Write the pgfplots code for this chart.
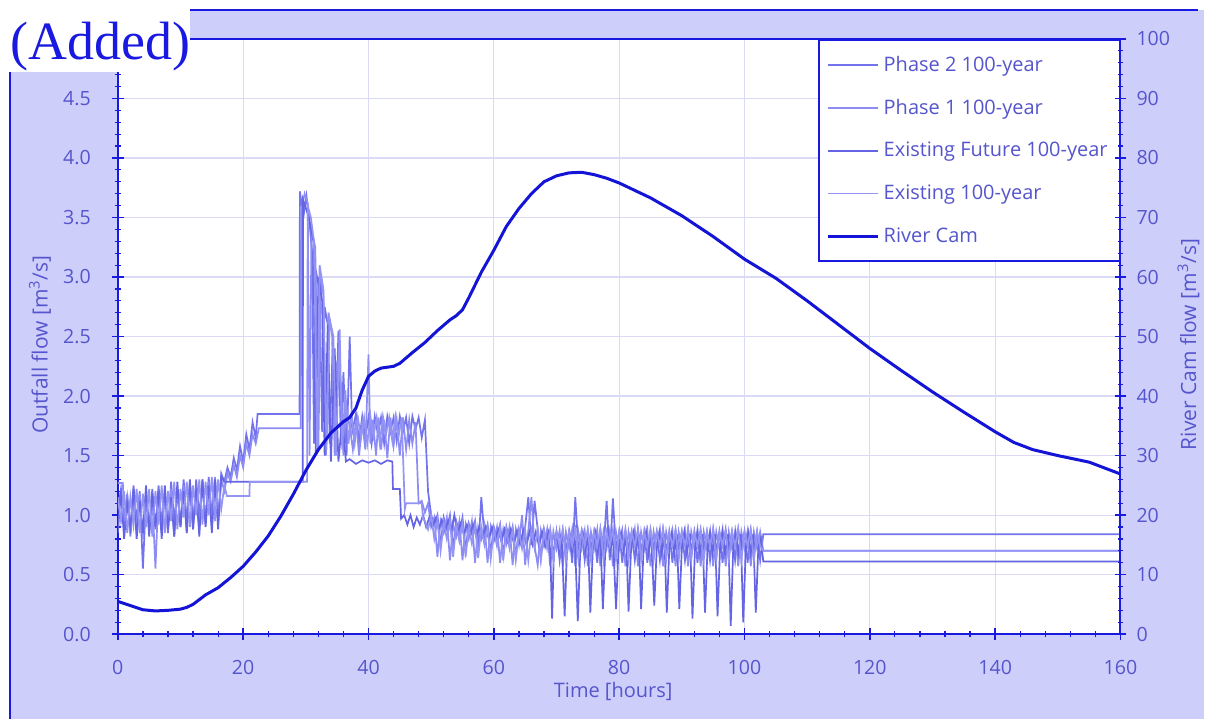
\documentclass[border=0pt]{standalone}
\usepackage{pgfplots}
\pgfplotsset{compat=1.18}
\usepackage{fontspec}
\setmainfont{Open Sans}
\newfontfamily\serifadded{Liberation Serif}
\definecolor{bglav}{RGB}{206,206,250}
\definecolor{axblue}{RGB}{25,25,225}
\definecolor{txtblue}{RGB}{85,85,205}
\definecolor{gridlav}{RGB}{218,218,246}
\definecolor{sA}{RGB}{115,115,238}
\definecolor{sB}{RGB}{140,140,244}
\definecolor{sC}{RGB}{100,100,228}
\definecolor{sD}{RGB}{148,148,244}
\definecolor{river}{RGB}{20,20,215}
\begin{document}
\begin{tikzpicture}
\fill[white] (0pt,0pt) rectangle (603pt,-360pt);
\fill[bglav] (5pt,-5pt) rectangle (603pt,-360pt);
\draw[axblue, line width=1pt] (95pt,-5pt) -- (600pt,-5pt);
\draw[axblue, line width=1pt] (5pt,-36pt) -- (5pt,-360pt);
\begin{axis}[
  at={(59pt,-317.5pt)}, anchor=south west,
  width=502pt, height=298pt, scale only axis,
  xmin=0, xmax=160, ymin=0, ymax=5,
  xtick={0,20,...,160}, minor x tick num=4,
  ytick={0,0.5,1,1.5,2,2.5,3,3.5,4,4.5},
  minor ytick={0.1,0.2,0.3,0.4,0.6,0.7,0.8,0.9,1.1,1.2,1.3,1.4,1.6,1.7,1.8,1.9,2.1,2.2,2.3,2.4,2.6,2.7,2.8,2.9,3.1,3.2,3.3,3.4,3.6,3.7,3.8,3.9,4.1,4.2,4.3,4.4,4.6,4.7,4.8,4.9},
  xtick pos=bottom, ytick pos=left,
  tick align=center, major tick length=6pt, minor tick length=3pt,
  axis line style={axblue, line width=1pt},
  tick style={axblue, line width=0.8pt},
  minor tick style={axblue, line width=0.6pt},
  xmajorgrids, ymajorgrids, major grid style={gridlav, line width=0.6pt},
  axis background/.style={fill=white},
  tick label style={text=txtblue, font=\fontsize{9.8}{10}\selectfont},
  /pgf/number format/assume math mode=true,
  yticklabel style={/pgf/number format/fixed, /pgf/number format/fixed zerofill, /pgf/number format/precision=1, xshift=-7pt},
  xticklabel style={yshift=-6.5pt},
  legend style={at={(rel axis cs:1,1)}, anchor=north east, draw=axblue, line width=0.9pt, fill=white,
    font=\fontsize{10}{12}\selectfont, text=txtblue, row sep=8.5pt, inner xsep=4pt, inner ysep=6pt},
  legend cell align=left,
  legend image code/.code={\draw[#1] (0pt,0pt) -- (25pt,0pt);},
]
\addplot[sA, line width=0.85pt] coordinates {(0,1.05)(0.5,1.22)(1,0.9)(1.5,1.18)(2,0.85)(2.5,1.25)(3,0.95)(3.5,1.2)(4,0.55)(4.5,1.15)(5,0.9)(5.5,1.22)(6,0.88)(6.5,1.25)(7,0.92)(7.5,1.2)(8,0.85)(8.5,1.28)(9,0.95)(9.5,1.22)(10,0.9)(10.5,1.3)(11,0.95)(11.5,1.25)(12,0.88)(12.5,1.3)(13,1.0)(13.5,1.28)(14,0.92)(14.5,1.32)(15,1.0)(15.5,1.3)(16,0.95)(16.5,1.35)(17,1.28)(17.5,1.4)(18,1.32)(18.5,1.48)(19,1.38)(19.5,1.58)(20,1.45)(20.5,1.68)(21,1.55)(21.5,1.78)(22,1.65)(22.3,1.85)(29,1.85)(29.05,3.72)(29.6,3.5)(30.1,3.68)(30.6,3.45)(31,3.2)(31.3,1.6)(31.6,3.05)(32.2,2.9)(32.6,1.7)(33,2.75)(33.5,2.6)(33.8,1.6)(34.3,2.45)(34.7,1.55)(35.2,2.55)(35.6,1.6)(36,2.2)(36.5,1.5)(37,2.5)(37.4,1.7)(38,1.85)(38.5,1.62)(39,1.83)(39.5,1.65)(40,1.82)(40.5,1.6)(41,1.83)(41.5,1.68)(42,1.82)(42.5,1.6)(43,1.83)(43.5,1.7)(44,1.82)(44.5,1.62)(45,1.83)(45.5,1.7)(46,1.82)(46.5,1.6)(47,1.83)(47.5,1.72)(48,1.82)(48.5,1.65)(49,1.8)(49.5,1.2)(50,1.0)(50.5,0.92)(51,1.0)(51.5,0.75)(52,0.98)(52.5,0.88)(53,1.0)(53.5,0.72)(54,0.95)(54.5,0.85)(55,0.98)(55.5,0.7)(56,0.93)(56.5,0.84)(57,0.95)(57.5,0.7)(58,1.15)(58.5,0.82)(59,0.92)(59.5,0.68)(60,0.9)(60.5,0.8)(61,0.92)(61.5,0.66)(62,0.9)(62.5,0.78)(63,0.9)(63.5,0.65)(64,0.88)(64.5,0.76)(65,0.9)(65.5,1.15)(66,0.75)(66.5,1.12)(67,0.88)(67.5,0.64)(68,0.88)(68.5,0.75)(69,0.87)(69.5,0.64)(70,0.86)(70.5,0.62)(71,0.87)(71.5,0.7)(72,0.86)(72.5,0.6)(73,1.15)(73.5,0.7)(74,0.86)(74.5,0.62)(75,0.87)(75.5,0.72)(76,0.86)(76.5,0.6)(77,0.88)(77.5,0.7)(78,1.12)(78.5,0.62)(79,1.14)(79.5,0.7)(80,0.86)(80.5,0.6)(81,0.87)(81.5,0.72)(82,0.86)(82.5,0.62)(83,0.88)(83.5,0.7)(84,0.86)(84.5,0.6)(85,0.87)(85.5,0.72)(86,0.86)(86.5,0.62)(87,0.88)(87.5,0.7)(88,0.86)(88.5,0.6)(89,0.87)(89.5,0.72)(90,0.86)(90.5,0.62)(91,0.88)(91.5,0.7)(92,0.86)(92.5,0.6)(93,0.87)(93.5,0.72)(94,0.86)(94.5,0.62)(95,0.88)(95.5,0.7)(96,0.86)(96.5,0.6)(97,0.87)(97.5,0.72)(98,0.86)(98.5,0.62)(99,0.88)(99.5,0.7)(100,0.86)(100.5,0.6)(101,0.87)(101.5,0.72)(102,0.86)(102.5,0.62)(103,0.84)(160,0.84)};
\addlegendentry{Phase 2 100-year}
\addplot[sB, line width=0.85pt] coordinates {(0,1.27)(0.8,1.27)(1,0.95)(1.5,1.15)(2,0.82)(2.5,1.1)(3,0.9)(3.5,1.18)(4,0.8)(4.5,1.2)(5,0.85)(5.5,1.15)(6,0.55)(6.5,1.2)(7,0.85)(7.5,1.18)(8,0.9)(8.5,1.22)(9,0.82)(9.5,1.2)(10,0.92)(10.5,1.25)(11,0.85)(11.5,1.28)(12,0.95)(12.5,1.22)(13,0.88)(13.5,1.3)(14,0.95)(14.5,1.28)(15,0.9)(15.5,1.32)(16,0.98)(16.5,1.3)(17,1.2)(17.5,1.35)(18,1.28)(18.5,1.42)(19,1.32)(19.5,1.5)(20,1.4)(20.5,1.6)(21,1.5)(21.5,1.68)(22,1.6)(22.5,1.73)(29.2,1.73)(29.25,3.55)(29.8,3.7)(30.3,3.62)(30.6,1.5)(30.9,3.4)(31.5,3.25)(32,1.55)(32.4,3.0)(32.8,2.85)(33.2,1.5)(33.6,2.7)(34.2,2.5)(34.6,1.5)(35,2.3)(35.6,2.1)(36,1.5)(36.4,1.9)(37,1.75)(37.5,1.55)(38,1.8)(38.5,1.5)(39,1.78)(39.5,1.55)(40,2.35)(40.3,1.6)(40.7,1.8)(41.2,1.5)(41.6,1.82)(42,1.55)(42.5,1.8)(43,1.48)(43.5,1.82)(44,1.58)(44.5,1.8)(45,1.5)(45.5,1.82)(46,1.55)(46.5,1.8)(47,1.6)(47.5,1.78)(48,1.1)(48.5,1.12)(49,1.02)(49.5,1.1)(50,0.9)(50.5,0.98)(51,0.65)(51.5,0.95)(52,0.85)(52.5,0.98)(53,0.62)(53.5,0.92)(54,0.82)(54.5,0.95)(55,0.62)(55.5,0.92)(56,0.8)(56.5,0.95)(57,0.6)(57.5,0.9)(58,0.8)(58.5,0.92)(59,0.6)(59.5,0.9)(60,0.78)(60.5,0.9)(61,0.6)(61.5,0.88)(62,0.76)(62.5,0.9)(63,0.58)(63.5,0.88)(64,0.75)(64.5,1.0)(65,0.58)(65.5,0.87)(66,1.15)(66.5,0.74)(67,0.58)(67.5,0.87)(68,0.74)(68.5,0.88)(69,0.57)(69.5,0.86)(70,0.72)(70.5,0.87)(71,0.57)(71.5,0.86)(72,0.72)(72.5,0.88)(73,0.57)(73.5,0.86)(74,0.72)(74.5,0.87)(75,0.57)(75.5,0.86)(76,0.72)(76.5,0.88)(77,0.57)(77.5,0.86)(78,0.72)(78.5,0.87)(79,0.57)(79.5,0.86)(80,0.72)(80.5,0.87)(81,0.57)(81.5,0.86)(82,0.72)(82.5,0.88)(83,0.57)(83.5,0.86)(84,0.72)(84.5,0.87)(85,0.57)(85.5,0.86)(86,0.72)(86.5,0.88)(87,0.57)(87.5,0.86)(88,0.72)(88.5,0.87)(89,0.57)(89.5,0.86)(90,0.72)(90.5,0.87)(91,0.57)(91.5,0.86)(92,0.72)(92.5,0.88)(93,0.57)(93.5,0.86)(94,0.72)(94.5,0.87)(95,0.57)(95.5,0.86)(96,0.72)(96.5,0.88)(97,0.57)(97.5,0.86)(98,0.72)(98.5,0.87)(99,0.57)(99.5,0.86)(100,0.72)(100.5,0.87)(101,0.57)(101.5,0.86)(102,0.72)(102.5,0.86)(103,0.7)(160,0.7)};
\addlegendentry{Phase 1 100-year}
\addplot[sC, line width=0.85pt] coordinates {(0,0.85)(0.5,1.2)(1,0.8)(1.5,1.1)(2,0.9)(2.5,1.22)(3,0.8)(3.5,1.12)(4,0.85)(4.5,1.25)(5,0.82)(5.5,1.18)(6,0.9)(6.5,1.2)(7,0.8)(7.5,1.25)(8,0.88)(8.5,1.15)(9,0.82)(9.5,1.28)(10,0.9)(10.5,1.2)(11,0.85)(11.5,1.3)(12,0.88)(12.5,1.22)(13,0.82)(13.5,1.3)(14,0.9)(14.5,1.25)(15,0.85)(15.5,1.3)(16,0.88)(16.5,1.32)(17,1.28)(29.5,1.28)(29.55,3.65)(30.5,3.5)(31.2,3.3)(31.6,1.5)(32,3.0)(32.6,2.8)(33,1.5)(33.5,2.6)(34,1.45)(34.6,2.4)(35.2,1.45)(35.8,1.8)(36.4,1.45)(37,1.47)(38,1.43)(39,1.46)(40,1.44)(41,1.46)(42,1.43)(43,1.46)(43.8,1.45)(43.9,1.22)(45,1.22)(45.2,0.97)(45.7,1.0)(46.2,0.92)(46.7,1.0)(47.2,0.9)(47.7,0.98)(48.2,0.92)(48.7,1.0)(49.2,0.9)(49.7,0.98)(50.2,0.9)(50.7,0.97)(51.2,0.88)(51.7,0.96)(52.2,0.87)(52.7,0.95)(53.2,0.86)(53.7,1.0)(54.2,0.85)(54.7,0.93)(55.2,0.84)(55.7,0.92)(56.2,0.84)(56.7,0.92)(57.2,0.82)(57.7,0.9)(58.2,0.82)(58.7,0.9)(59.2,0.8)(59.7,0.9)(60.2,0.8)(60.7,0.88)(61.2,0.78)(61.7,0.88)(62.2,0.78)(62.7,0.88)(63.2,0.76)(63.7,0.87)(64.2,0.76)(64.7,0.87)(65.2,0.75)(65.7,0.86)(66.2,0.75)(66.7,0.86)(67.2,0.74)(67.7,0.86)(68.2,0.74)(68.7,0.85)(69,0.7)(69.3,0.13)(69.6,0.72)(70,0.85)(70.4,0.7)(70.8,0.84)(71.3,0.15)(71.7,0.74)(72.1,0.85)(72.5,0.7)(72.9,0.84)(73.4,0.11)(73.8,0.72)(74.2,0.85)(74.6,0.7)(75,0.84)(75.4,0.18)(75.8,0.72)(76.2,0.85)(76.6,0.7)(77,0.84)(77.4,0.21)(77.8,0.72)(78.2,0.86)(78.6,0.7)(79,0.84)(79.5,0.21)(79.9,0.72)(80.3,0.85)(80.7,0.7)(81.1,0.84)(81.5,0.19)(81.9,0.72)(82.3,0.85)(82.7,0.7)(83.1,0.84)(83.5,0.21)(83.9,0.72)(84.3,0.86)(84.7,0.68)(85.1,0.84)(85.6,0.24)(86,0.72)(86.4,0.85)(86.8,0.68)(87.2,0.84)(87.6,0.18)(88,0.72)(88.4,0.85)(88.8,0.68)(89.2,0.84)(89.6,0.21)(90,0.72)(90.4,0.86)(90.8,0.68)(91.3,0.84)(91.7,0.13)(92.1,0.72)(92.5,0.85)(92.9,0.68)(93.3,0.84)(93.7,0.18)(94.1,0.72)(94.5,0.85)(94.9,0.68)(95.3,0.84)(95.7,0.15)(96.1,0.72)(96.5,0.86)(96.9,0.68)(97.4,0.84)(97.8,0.07)(98.2,0.72)(98.6,0.85)(99,0.68)(99.4,0.84)(99.8,0.1)(100.2,0.72)(100.6,0.85)(101,0.68)(101.4,0.84)(101.8,0.18)(102.2,0.72)(102.6,0.8)(103,0.61)(160,0.61)};
\addlegendentry{Existing Future 100-year}
\addplot[sD, line width=0.85pt] coordinates {(0,1.15)(0.5,0.95)(1,1.2)(1.5,0.85)(2,1.15)(2.5,0.92)(3,1.22)(3.5,0.85)(4,1.18)(4.5,0.9)(5,1.22)(5.5,0.82)(6,1.2)(6.5,0.92)(7,1.25)(7.5,0.85)(8,1.2)(8.5,0.95)(9,1.28)(9.5,0.88)(10,1.22)(10.5,0.98)(11,1.28)(11.5,0.9)(12,1.25)(12.5,1.0)(13,1.3)(13.5,0.92)(14,1.28)(14.5,1.0)(15,1.32)(15.5,0.95)(16,1.3)(16.5,1.05)(17,1.25)(17.4,1.16)(21,1.16)(21.05,1.28)(30.2,1.28)(30.3,3.6)(30.8,3.5)(31.3,3.3)(31.8,1.55)(32.2,3.1)(32.8,2.9)(33.3,1.55)(33.8,2.65)(34.4,2.5)(34.8,1.5)(35.4,2.56)(35.8,1.55)(36.3,2.05)(36.8,1.6)(37.3,1.85)(37.8,1.6)(38.3,1.82)(38.8,1.65)(39.3,1.82)(39.8,1.6)(40.3,1.83)(40.8,1.66)(41.3,1.82)(41.8,1.6)(42.3,1.83)(42.8,1.68)(43.3,1.82)(43.8,1.62)(44.3,1.83)(44.8,1.66)(45.3,1.82)(45.8,1.05)(46,1.1)(48.5,1.1)(48.7,0.97)(49,0.95)(49.5,0.88)(50,1.0)(50.5,0.8)(51,0.96)(51.5,0.7)(52,0.94)(52.5,0.8)(53,0.95)(53.5,0.65)(54,0.92)(54.5,0.78)(55,0.93)(55.5,0.65)(56,0.9)(56.5,0.76)(57,0.92)(57.5,0.64)(58,0.9)(58.5,0.75)(59,0.9)(59.5,0.63)(60,0.88)(60.5,0.74)(61,0.9)(61.5,0.62)(62,0.88)(62.5,0.72)(63,0.88)(63.5,0.62)(64,0.87)(64.5,0.72)(65,0.88)(65.5,0.62)(66,0.87)(66.5,0.72)(67,0.88)(67.5,0.62)(68,0.87)(68.5,0.72)(69,0.88)(69.5,0.62)(70,0.86)(70.5,0.74)(71,0.88)(71.5,0.62)(72,0.86)(72.5,0.74)(73,0.88)(73.5,0.62)(74,0.86)(74.5,0.74)(75,0.88)(75.5,0.62)(76,0.86)(76.5,0.74)(77,0.88)(77.5,0.62)(78,0.86)(78.5,0.74)(79,0.88)(79.5,0.62)(80,0.86)(80.5,0.74)(81,0.88)(81.5,0.62)(82,0.86)(82.5,0.74)(83,0.88)(83.5,0.62)(84,0.86)(84.5,0.74)(85,0.88)(85.5,0.62)(86,0.86)(86.5,0.74)(87,0.88)(87.5,0.62)(88,0.86)(88.5,0.74)(89,0.88)(89.5,0.62)(90,0.86)(90.5,0.74)(91,0.88)(91.5,0.62)(92,0.86)(92.5,0.74)(93,0.88)(93.5,0.62)(94,0.86)(94.5,0.74)(95,0.88)(95.5,0.62)(96,0.86)(96.5,0.74)(97,0.88)(97.5,0.62)(98,0.86)(98.5,0.74)(99,0.88)(99.5,0.62)(100,0.86)(100.5,0.74)(101,0.88)(101.5,0.62)(102,0.86)(102.5,0.74)(103,0.7)(160,0.7)};
\addlegendentry{Existing 100-year}
\addlegendimage{river, line width=1.5pt}
\addlegendentry{River Cam}
\end{axis}
\begin{axis}[
  at={(59pt,-317.5pt)}, anchor=south west,
  width=502pt, height=298pt, scale only axis,
  xmin=0, xmax=160, ymin=0, ymax=100,
  axis x line=none, axis y line*=right,
  ytick={0,10,...,100}, minor y tick num=4,
  tick align=center, major tick length=6pt, minor tick length=3pt,
  axis line style={axblue, line width=1pt},
  tick style={axblue, line width=0.8pt},
  minor tick style={axblue, line width=0.6pt},
  tick label style={text=txtblue, font=\fontsize{9.8}{10}\selectfont},
  /pgf/number format/assume math mode=true,
  yticklabel style={xshift=1.5pt},
]
\addplot[river, line width=1.5pt] coordinates {(0,5.5)(2,4.8)(4,4.1)(6,3.9)(8,4.0)(10,4.2)(11,4.5)(12,5.0)(13,5.8)(14,6.6)(16,7.8)(18,9.5)(20,11.4)(22,13.8)(24,16.5)(26,19.8)(28,23.5)(30,27.5)(32,31.0)(34,33.8)(36,35.7)(37,36.4)(38,38.0)(39,41.0)(40,43.3)(41,44.2)(42,44.7)(44,45.0)(45,45.5)(47,47.3)(49,49.0)(51,51.0)(53,52.8)(54,53.5)(55,54.5)(56,56.5)(58,60.8)(60,64.5)(62,68.5)(64,71.5)(66,74.0)(68,76.0)(70,77.0)(72,77.5)(74,77.6)(76,77.2)(78,76.6)(80,75.8)(85,73.3)(90,70.3)(95,66.8)(100,63.0)(105,59.8)(110,56.0)(115,52.0)(120,48.0)(125,44.3)(130,40.7)(135,37.3)(140,34.0)(143,32.2)(146,31.0)(150,30.0)(155,28.9)(160,26.9)};
\end{axis}
\node[rotate=90, text=txtblue, font=\fontsize{10.5}{12}\selectfont] at (20pt,-172.5pt) {Outfall flow [m\textsuperscript{3}/s]};
\node[rotate=90, text=txtblue, font=\fontsize{10.5}{12}\selectfont] at (595pt,-172.5pt) {River Cam flow [m\textsuperscript{3}/s]};
\node[text=txtblue, font=\fontsize{10}{12}\selectfont] at (307pt,-346pt) {Time [hours]};
\fill[white] (0pt,0pt) rectangle (95pt,-36pt);
\node[anchor=base west, inner sep=0pt, text=axblue, font=\serifadded\fontsize{27}{30}\selectfont] at (5pt,-30pt) {(Added)};
\end{tikzpicture}
\end{document}
